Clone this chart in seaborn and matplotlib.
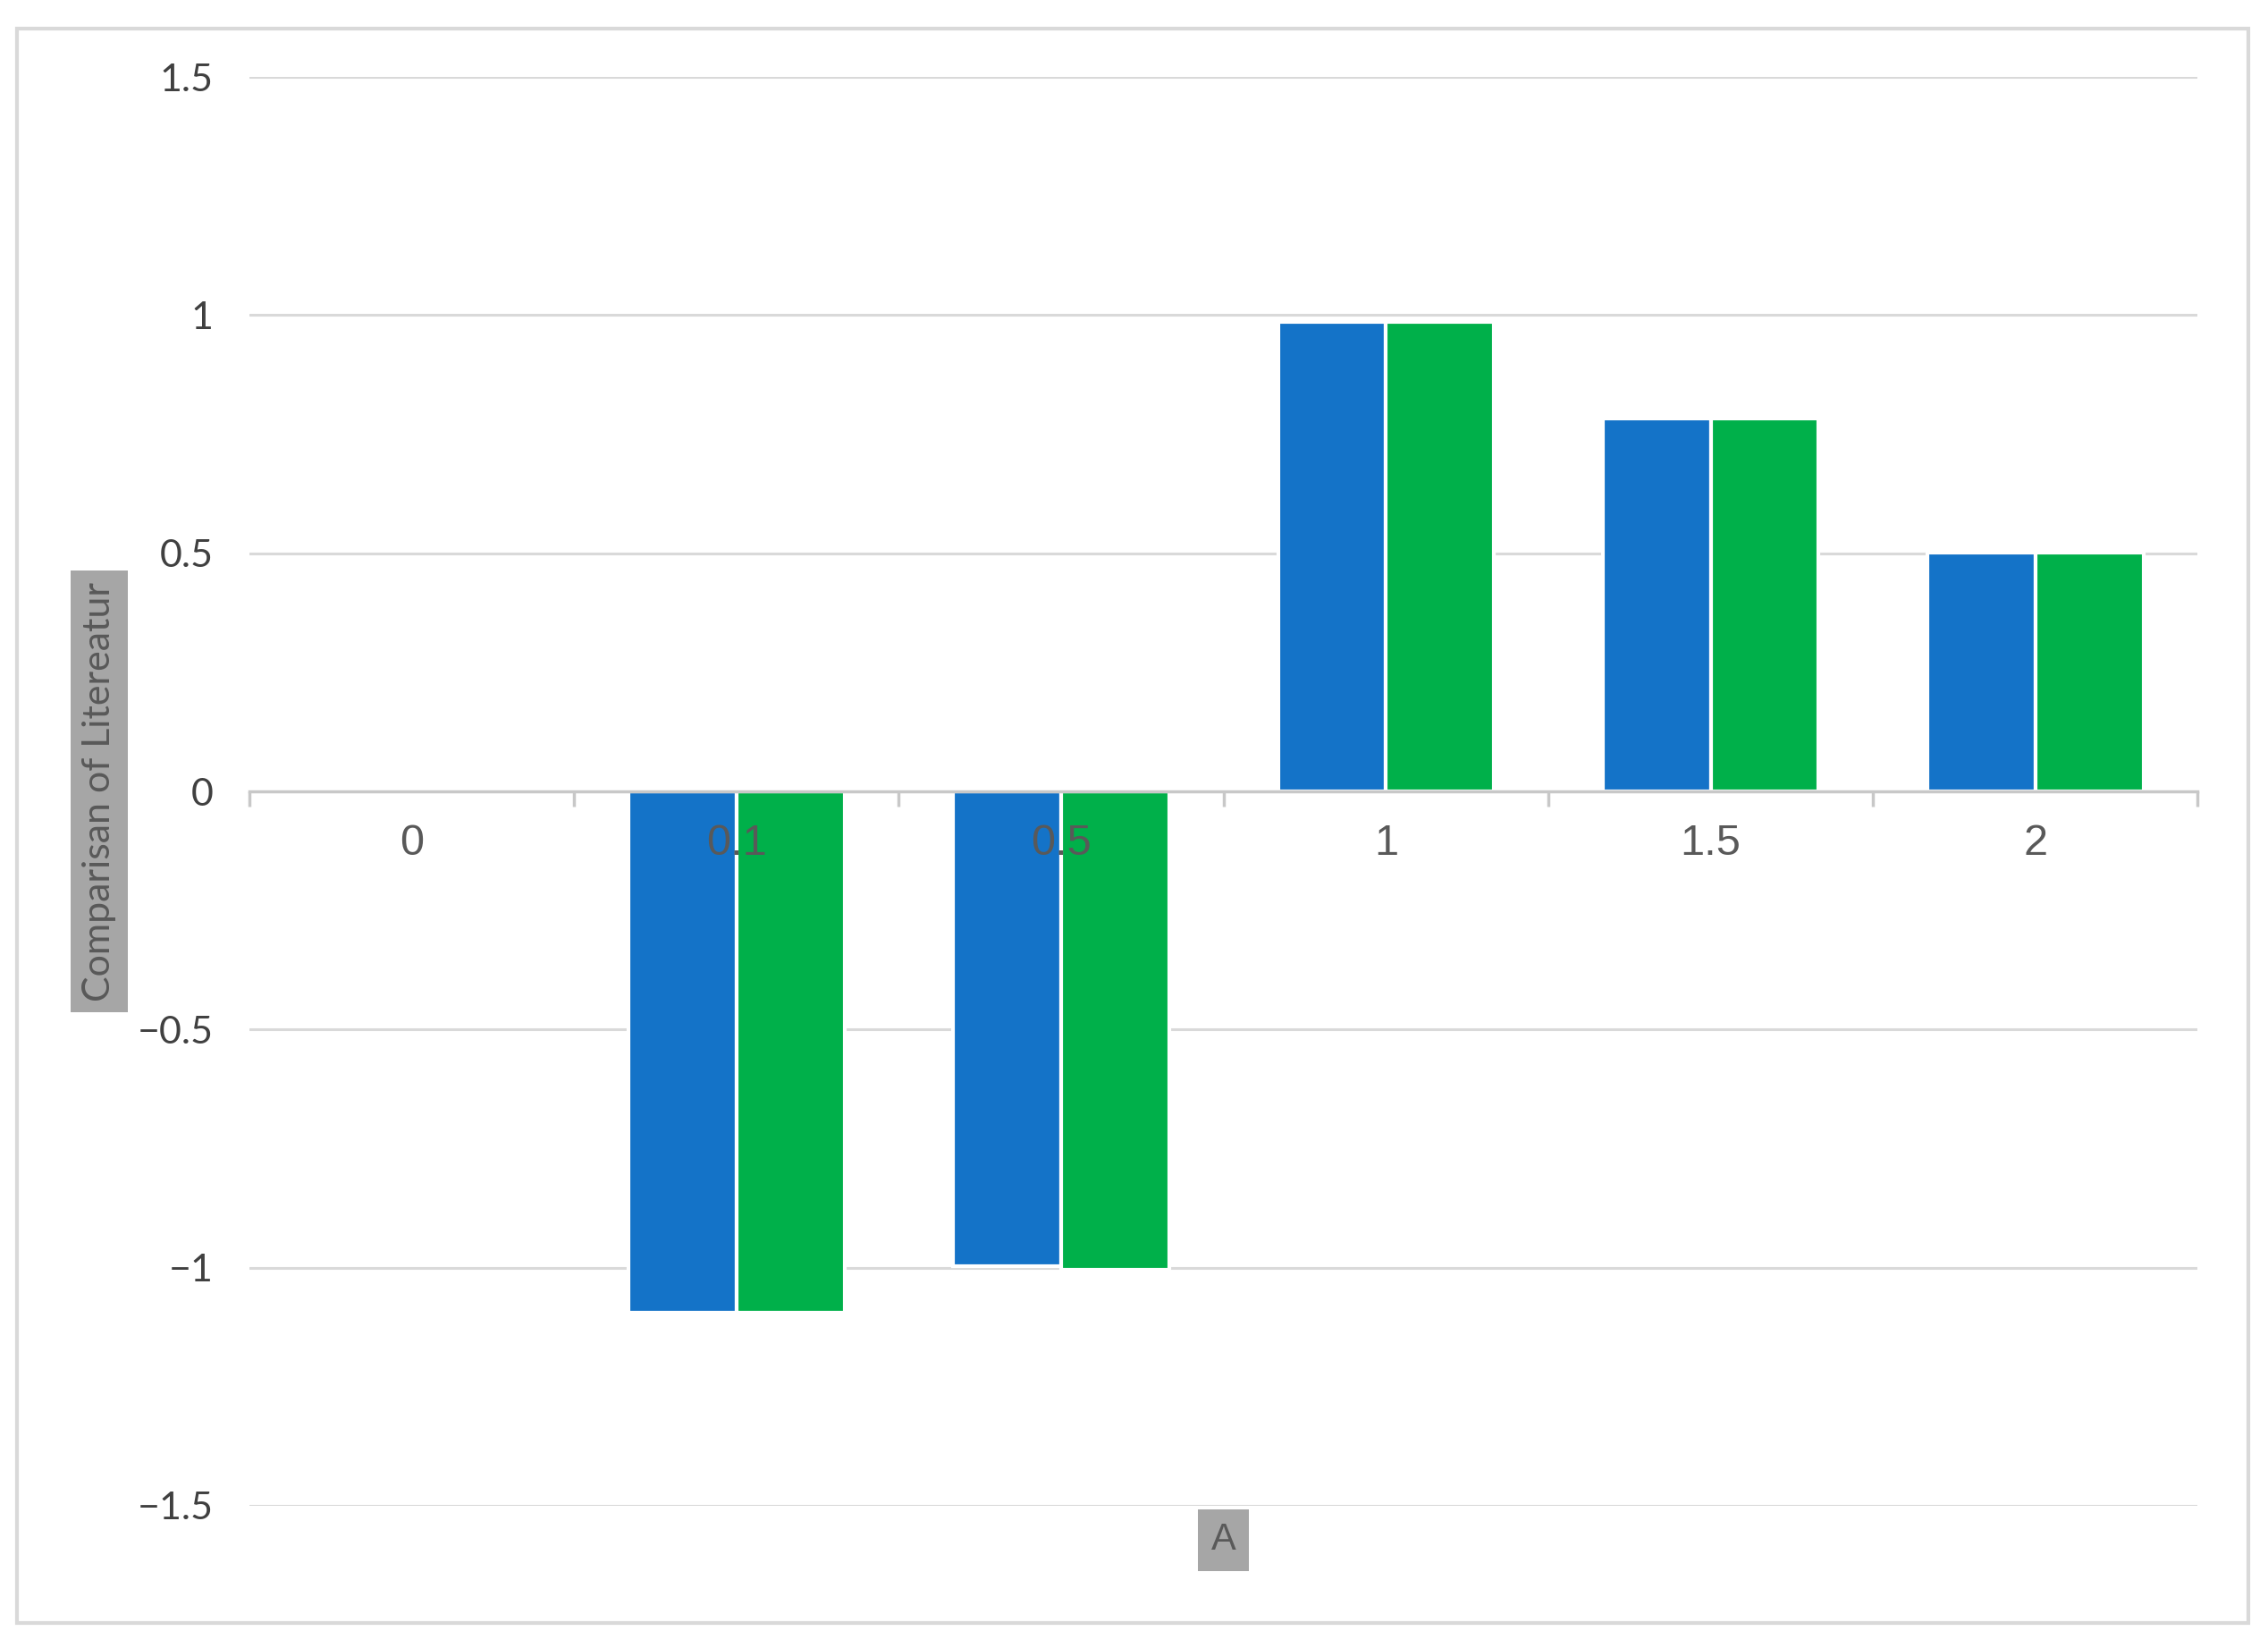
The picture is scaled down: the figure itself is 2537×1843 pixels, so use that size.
import seaborn as sns
import pandas as pd
import matplotlib.pyplot as plt
from matplotlib.patches import Rectangle
from matplotlib.ticker import FixedLocator

categories = ['0', '0.1', '0.5', '1', '1.5', '2']
series1 = [0.0, -1.095, -0.997, 0.985, 0.782, 0.502]
series2 = [0.0, -1.095, -1.005, 0.985, 0.782, 0.502]
yticks = [-1.5, -1, -0.5, 0, 0.5, 1, 1.5]

df = pd.DataFrame({
    'A': categories * 2,
    'series': ['Series1'] * len(categories) + ['Series2'] * len(categories),
    'value': series1 + series2,
})

sns.set_style('white')
plt.rcParams['font.family'] = ['Lato', 'DejaVu Sans']

fig = plt.figure(figsize=(25.37, 18.43), dpi=100)
ax = fig.add_axes([0.110, 0.0863, 0.859, 0.867])

sns.barplot(data=df, x='A', y='value', hue='series', order=categories,
            palette=['#1473C8', '#00B04A'], saturation=1, width=0.665, ax=ax,
            edgecolor='white', linewidth=3, legend=False, zorder=2)

ax.set_xlim(-0.5, 5.5)
ax.set_ylim(-1.5, 1.5)

# grid
ax.set_yticks(yticks)
ax.set_yticklabels(['\u22121.5', '\u22121', '\u22120.5', '0', '0.5', '1', '1.5'])
for v in yticks:
    if v != 0:
        ax.axhline(v, color='#D9D9D9', lw=2.2, zorder=1)
ax.tick_params(axis='y', length=0, pad=29, labelsize=31, labelcolor='#404040')

# x axis at zero
for s in ['top', 'right', 'left']:
    ax.spines[s].set_visible(False)
ax.spines['bottom'].set_position(('data', 0))
ax.spines['bottom'].set_color('#C8C8C8')
ax.spines['bottom'].set_linewidth(2.5)
ax.xaxis.set_minor_locator(FixedLocator([i - 0.5 for i in range(7)]))
ax.tick_params(axis='x', which='major', length=0, pad=26, labelsize=35,
               labelcolor='#595959')
ax.tick_params(axis='x', which='minor', length=12, width=2.5, color='#C8C8C8',
               direction='out', bottom=True)
for lbl in ax.get_xticklabels():
    lbl.set_family(['Liberation Sans', 'DejaVu Sans'])
ax.xaxis.set_zorder(5)

ax.set_ylabel('Comparisan of Litereatur', fontsize=31, color='#595959',
              bbox=dict(boxstyle='square,pad=0.3', fc='#A6A6A6', ec='none'))
ax.yaxis.set_label_coords(-0.077, 0.5)
ax.yaxis.label.set_va('center')
ax.set_xlabel('A', fontsize=30, color='#595959',
              family=['Liberation Sans', 'DejaVu Sans'],
              bbox=dict(boxstyle='square,pad=0.35', fc='#A6A6A6', ec='none'))
ax.xaxis.set_label_coords(0.5, -0.024)
ax.xaxis.label.set_va('center')

fig.patches.append(Rectangle((0.0075, 0.0152), 0.984, 0.9675,
                             transform=fig.transFigure, fill=False,
                             ec='#D9D9D9', lw=3))

fig.savefig('out.png', dpi=100)
